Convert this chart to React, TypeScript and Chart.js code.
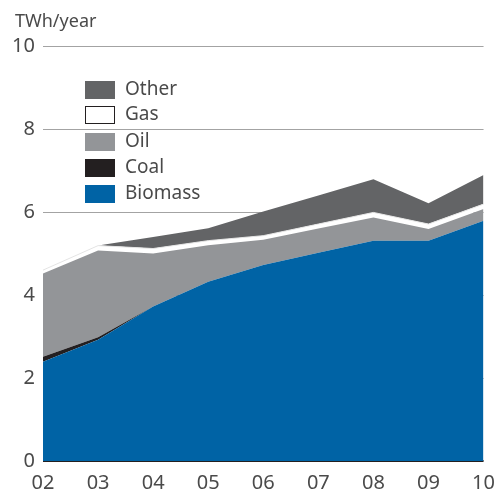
import React, { useEffect, useRef } from "react";
import { Chart, registerables } from "chart.js";

Chart.register(...registerables);

const years = ["02", "03", "04", "05", "06", "07", "08", "09", "10"];
const biomass = [2.39, 2.92, 3.72, 4.32, 4.72, 5.02, 5.31, 5.31, 5.79];
const coal = [0.12, 0.06, 0.0, 0.0, 0.0, 0.0, 0.0, 0.0, 0.0];
const oil = [2.01, 2.09, 1.28, 0.88, 0.61, 0.58, 0.56, 0.28, 0.28];
const gas = [0.08, 0.12, 0.12, 0.11, 0.1, 0.11, 0.12, 0.12, 0.12];
const other = [0.0, 0.0, 0.28, 0.3, 0.58, 0.69, 0.8, 0.5, 0.7];
const yTicks = [0, 2, 4, 6, 8, 10];

const legendItems = [
  { label: "Other", fill: "#636466", stroke: "#636466" },
  { label: "Gas", fill: "#ffffff", stroke: "#231f20" },
  { label: "Oil", fill: "#939598", stroke: "#939598" },
  { label: "Coal", fill: "#231f20", stroke: "#231f20" },
  { label: "Biomass", fill: "#0063a5", stroke: "#0063a5" },
];

const FONT = "'Noto Sans', sans-serif";
const TEXT = "#4a4a4a";

const overlayPlugin = {
  id: "overlay",
  afterDraw(chart: any) {
    const ctx = chart.ctx;
    ctx.save();
    ctx.fillStyle = TEXT;
    ctx.font = `18px ${FONT}`;
    ctx.textAlign = "left";
    ctx.textBaseline = "middle";
    ctx.fillText("TWh/year", 15, 22);
    const rows = [90, 115, 142, 168, 194];
    legendItems.forEach((it, i) => {
      const y = rows[i];
      ctx.fillStyle = it.fill;
      ctx.fillRect(85, y - 9, 30, 18);
      if (it.label === "Gas") {
        ctx.strokeStyle = it.stroke;
        ctx.lineWidth = 1;
        ctx.strokeRect(85.5, y - 8.5, 29, 17);
      }
      ctx.fillStyle = TEXT;
      ctx.font = `19px ${FONT}`;
      ctx.fillText(it.label, 125, y);
    });
    ctx.restore();
  },
};

export default function App() {
  const ref = useRef<HTMLCanvasElement | null>(null);
  useEffect(() => {
    if (!ref.current) return;
    const mk = (label: string, data: number[], color: string, fill: any, border?: string, bw = 0) => ({
      label,
      data,
      backgroundColor: color,
      borderColor: border || color,
      borderWidth: bw,
      fill,
      pointRadius: 0,
      tension: 0,
    });
    const chart = new Chart(ref.current, {
      type: "line",
      data: {
        labels: years,
        datasets: [
          mk("Biomass", biomass, "#0063a5", "origin"),
          mk("Coal", coal, "#231f20", "-1"),
          mk("Oil", oil, "#939598", "-1"),
          mk("Gas", gas, "#ffffff", "-1", "#e4e4e4", 1),
          mk("Other", other, "#636466", "-1"),
        ],
      },
      options: {
        responsive: false,
        animation: false,
        layout: { padding: { top: 46, right: 7, left: 0, bottom: 0 } },
        plugins: { legend: { display: false }, tooltip: { enabled: false } },
        scales: {
          x: {
            offset: false,
            grid: { display: false },
            border: { display: false },
            ticks: { color: TEXT, font: { family: FONT, size: 20 }, padding: 2, maxRotation: 0, autoSkip: false },
            afterFit: (s: any) => { s.height = 30; },
          },
          y: {
            stacked: true,
            min: 0,
            max: 10,
            z: 1,
            afterBuildTicks: (s: any) => { s.ticks = yTicks.map((v) => ({ value: v })); },
            afterFit: (s: any) => { s.width = 43; },
            border: { display: false },
            grid: {
              drawTicks: false,
              color: (c: any) => (c.tick && c.tick.value === 0 ? "#231f20" : "#a3a3a3"),
              lineWidth: (c: any) => (c.tick && c.tick.value === 0 ? 2 : 1),
            },
            ticks: { color: TEXT, font: { family: FONT, size: 20 }, padding: 8 },
          },
        },
      },
      plugins: [overlayPlugin],
    });
    return () => chart.destroy();
  }, []);
  return (
    <div style={{ position: "fixed", left: 0, top: 0, width: 497, height: 491, background: "#fff" }}>
      <canvas ref={ref} width={497} height={491} style={{ width: 497, height: 491, display: "block" }} />
    </div>
  );
}
